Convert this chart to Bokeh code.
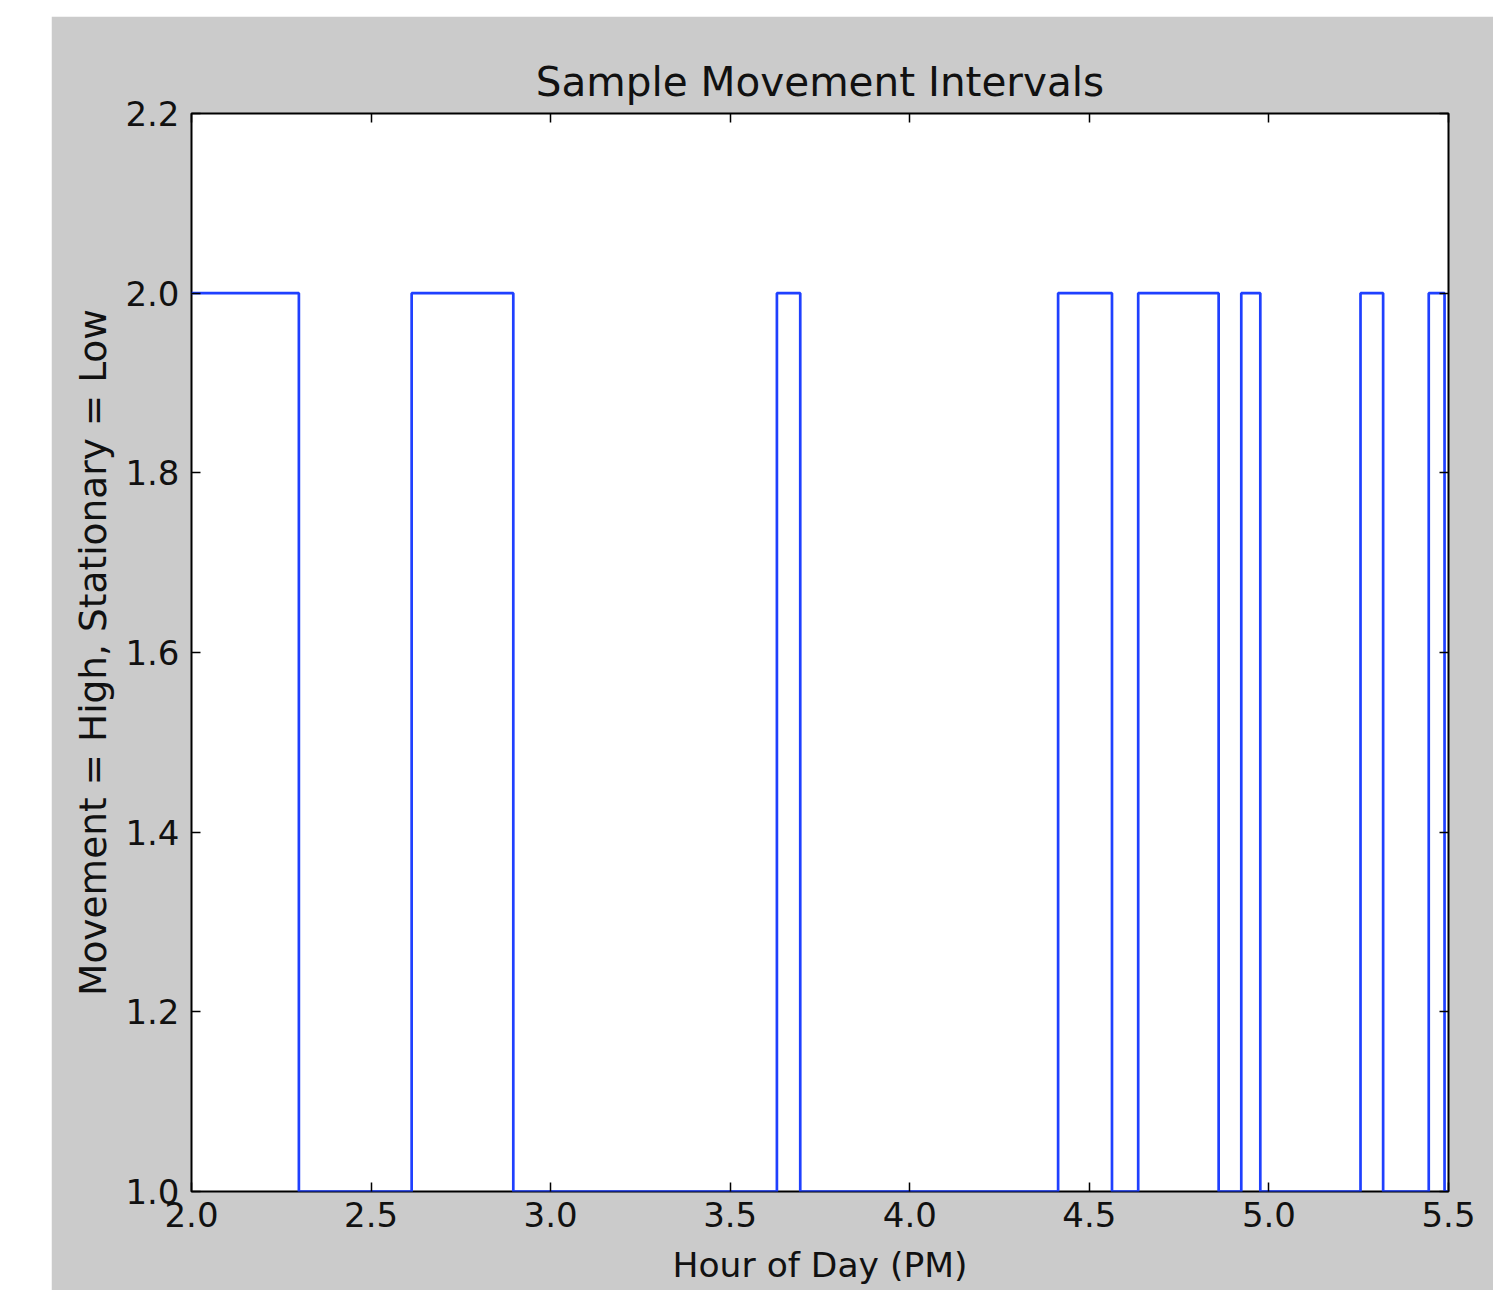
from bokeh.plotting import figure
from bokeh.models import Range1d, LinearAxis, FixedTicker, NumeralTickFormatter
from bokeh.embed import file_html
from bokeh.resources import INLINE

# Data: times (hour PM) at which the state changes, and the state from then on
change_times = [2.0, 2.299, 2.613, 2.896, 3.630, 3.695, 4.413, 4.563, 4.636,
                4.860, 4.923, 4.976, 5.255, 5.318, 5.445, 5.489, 5.5]
states = [2, 1, 2, 1, 2, 1, 2, 1, 2, 1, 2, 1, 2, 1, 2, 1, 1]

x_ticks = [2.0, 2.5, 3.0, 3.5, 4.0, 4.5, 5.0, 5.5]
y_ticks = [1.0, 1.2, 1.4, 1.6, 1.8, 2.0, 2.2]

FONT = "DejaVu Sans"
GREY = "#cbcbcb"
TXT = "#111111"

p = figure(width=1442, height=1274, output_backend="svg", toolbar_location=None,
           x_range=Range1d(2.0, 5.5), y_range=Range1d(1.0, 2.2),
           title="Sample Movement Intervals",
           min_border_left=140, min_border_right=45, min_border_top=97, min_border_bottom=99,
           margin=(16, 0, 0, 51))
p.border_fill_color = GREY
p.background_fill_color = "white"
p.outline_line_color = "black"
p.outline_line_width = 2
p.grid.visible = False

p.title.text_font = FONT
p.title.text_font_size = "40.5px"
p.title.text_font_style = "normal"
p.title.align = "center"
p.title.text_color = TXT
p.title.standoff = 16

p.step(change_times, states, mode="after", line_color="#1f40ff", line_width=2.7)

xa = p.xaxis[0]
ya = p.yaxis[0]
xa.ticker = FixedTicker(ticks=x_ticks)
ya.ticker = FixedTicker(ticks=y_ticks)
for ax in (xa, ya):
    ax.formatter = NumeralTickFormatter(format="0.0")
    ax.axis_line_color = None
    ax.major_tick_in = 9
    ax.major_tick_out = 0
    ax.major_tick_line_color = "black"
    ax.major_tick_line_width = 1.5
    ax.minor_tick_line_color = None
    ax.major_label_text_font = FONT
    ax.major_label_text_font_size = "34px"
    ax.major_label_text_color = TXT
    ax.axis_label_text_font = FONT
    ax.axis_label_text_font_style = "normal"
    ax.axis_label_text_color = TXT
xa.axis_label = "Hour of Day (PM)"
ya.axis_label = "Movement = High, Stationary = Low"
xa.axis_label_text_font_size = "34.5px"
ya.axis_label_text_font_size = "37.5px"
xa.major_label_standoff = 10
ya.major_label_standoff = 12
xa.axis_label_standoff = 15
ya.axis_label_standoff = 7

top = LinearAxis(ticker=FixedTicker(ticks=x_ticks))
right = LinearAxis(ticker=FixedTicker(ticks=y_ticks))
for ax in (top, right):
    ax.axis_line_color = None
    ax.major_tick_in = 9
    ax.major_tick_out = 0
    ax.major_tick_line_color = "black"
    ax.major_tick_line_width = 1.5
    ax.minor_tick_line_color = None
    ax.major_label_text_font_size = "1px"
    ax.major_label_text_color = None
    ax.major_label_standoff = 0
p.add_layout(top, "above")
p.add_layout(right, "right")

open("out.html", "w").write(file_html(p, INLINE))
